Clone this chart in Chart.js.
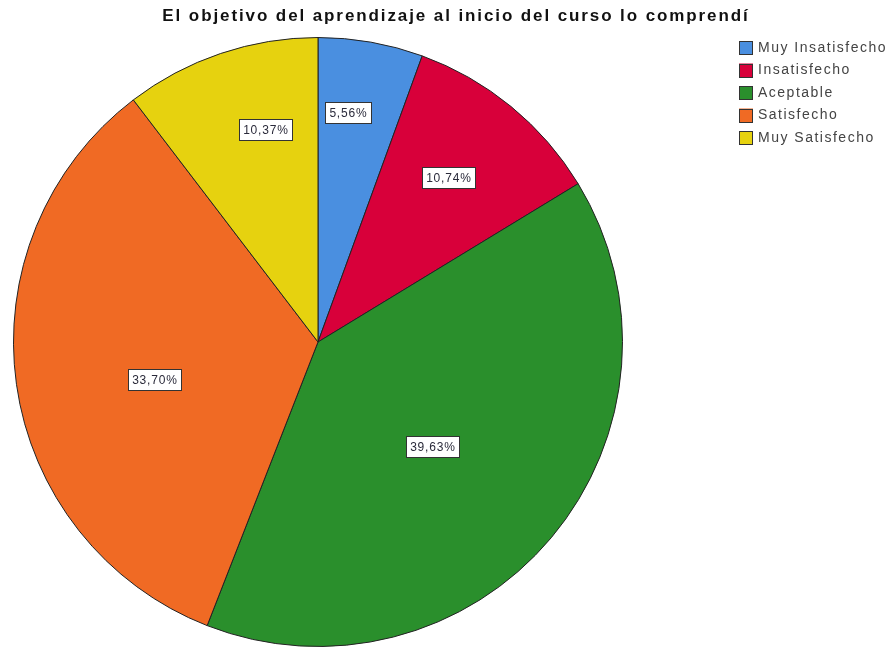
<!DOCTYPE html>
<html>
<head>
<meta charset="utf-8">
<script src="https://cdn.jsdelivr.net/npm/chart.js@4/dist/chart.umd.min.js"></script>
<style>
  body { margin: 0; background: #fff; }
  #wrap { width: 893px; height: 651px; }
</style>
</head>
<body>
<div id="wrap"><canvas id="pie-chart" width="893" height="651"></canvas></div>
<script>
// Chart data
const chartTitle = "El objetivo del aprendizaje al inicio del curso lo comprendí";
const categories = ["Muy Insatisfecho", "Insatisfecho", "Aceptable", "Satisfecho", "Muy Satisfecho"];
const percentages = [5.56, 10.74, 39.63, 33.70, 10.37];

// Styling
const sliceColors = ["#4a8fe0", "#d8003a", "#2a8f2c", "#f06a24", "#e6d20f"];
const labelRadius = [0.76, 0.69, 0.51, 0.55, 0.72];
const labelShiftDeg = [-2.6, -1, 2.5, -5, 4.7];

// Draws title, legend and the percentage boxes on top of the pie
const extrasPlugin = {
    id: 'extras',
    afterDraw(chart) {
        const ctx = chart.ctx;
        ctx.save();

        // title
        ctx.fillStyle = '#111';
        ctx.font = 'bold 17px "Liberation Sans", Arial, sans-serif';
        ctx.letterSpacing = '1.9px';
        ctx.textAlign = 'center';
        ctx.textBaseline = 'middle';
        ctx.fillText(chartTitle, 456, 16);

        // legend
        ctx.font = '14px "Liberation Sans", Arial, sans-serif';
        ctx.letterSpacing = '1.5px';
        ctx.textAlign = 'left';
        categories.forEach((name, i) => {
            const y = 48 + i * 22.5;
            ctx.fillStyle = sliceColors[i];
            ctx.fillRect(739, y - 7, 14, 14);
            ctx.strokeStyle = '#333';
            ctx.lineWidth = 1;
            ctx.strokeRect(739.5, Math.round(y - 7) + 0.5, 13, 13);
            ctx.fillStyle = '#444';
            ctx.fillText(name, 758, y);
        });

        // percentage labels
        const arcs = chart.getDatasetMeta(0).data;
        ctx.font = '12px "Liberation Sans", Arial, sans-serif';
        ctx.letterSpacing = '0.8px';
        ctx.textAlign = 'center';
        arcs.forEach((arc, i) => {
            const mid = (arc.startAngle + arc.endAngle) / 2 + labelShiftDeg[i] * Math.PI / 180;
            const r = arc.outerRadius * labelRadius[i];
            const x = arc.x + Math.cos(mid) * r;
            const y = arc.y + Math.sin(mid) * r;
            const text = percentages[i].toFixed(2).replace('.', ',') + '%';
            const w = Math.round(ctx.measureText(text).width + 8);
            const h = 21;
            const left = Math.round(x - w / 2);
            const top = Math.round(y - h / 2);
            ctx.fillStyle = '#fff';
            ctx.fillRect(left, top, w, h);
            ctx.strokeStyle = '#333';
            ctx.strokeRect(left + 0.5, top + 0.5, w, h);
            ctx.fillStyle = '#2a2a3a';
            ctx.fillText(text, left + w / 2 + 0.4, top + h / 2 + 1);
        });

        ctx.restore();
    }
};

function displayPieChart() {
    const ctx = document.getElementById("pie-chart").getContext("2d");

    new Chart(ctx, {
        type: 'pie',
        data: {
            labels: categories,
            datasets: [{
                data: percentages,
                backgroundColor: sliceColors,
                borderColor: '#222',
                borderWidth: 1
            }]
        },
        options: {
            responsive: false,
            animation: false,
            layout: {
                padding: { left: 12, right: 269, top: 37, bottom: 4 }
            },
            plugins: {
                legend: { display: false },
                tooltip: { enabled: false }
            }
        },
        plugins: [extrasPlugin]
    });
}

window.addEventListener('load', displayPieChart);
</script>
</body>
</html>
